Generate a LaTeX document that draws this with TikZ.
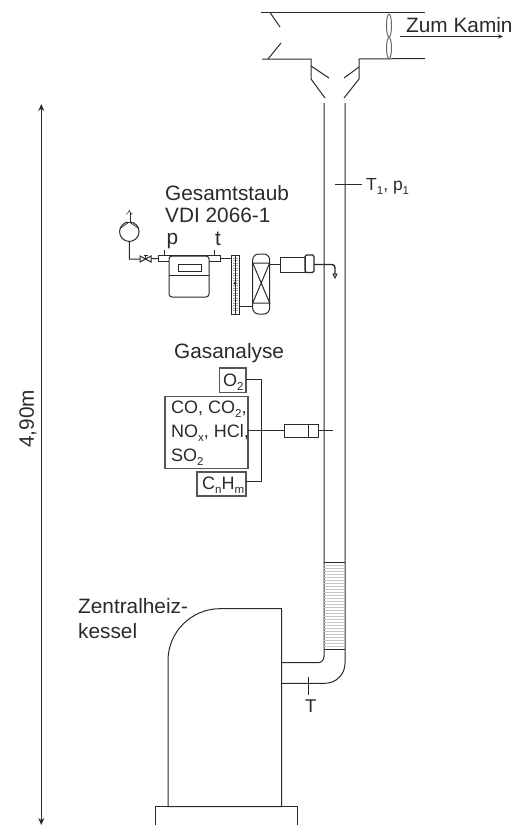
\documentclass[tikz,border=0pt]{standalone}
\usepackage{fontspec}
\setmainfont{Liberation Sans}
\usetikzlibrary{arrows.meta,shapes.geometric}
\newcommand{\lowidx}[1]{\raisebox{-.45ex}{\fontsize{11.5}{11.5}\selectfont #1}}
\definecolor{ink}{HTML}{2A2A2A}
\tikzset{
  line/.style={draw=ink,line width=1pt},
  lbl/.style={anchor=base west,inner sep=0pt,text=ink,font=\fontsize{#1}{#1}\selectfont},
  lbl/.default=20.8,
  part/.style={line,inner sep=0pt,outer sep=0pt},
  gasbox/.style={draw=ink!80,line width=1.2pt,inner sep=0pt,outer sep=0pt},
  bigtip/.style={{Stealth[length=7pt,width=6pt]}-{Stealth[length=7pt,width=6pt]}}
}
\begin{document}
\begin{tikzpicture}[x=1pt,y=-1pt]
\useasboundingbox (0,0) rectangle (519,825);
% Kamin
\coordinate (ductTL) at (261,12.5);
\coordinate (ductTR) at (425,12.5);
\coordinate (ductBL) at (262,59);
\coordinate (ductBR) at (425,58.5);
\draw[line] (ductTL) -- (ductTR);
\draw[line] (ductBL) -- (311,59) -- (311,79) -- (325,98);
\draw[line] (ductBR) -- (359,59) -- (359,79) -- (344,98);
\draw[line] (270,12.5) -- (280,27) (268,59) -- (281,43);
\draw[line] (311,66) -- (329,78) (359,67) -- (344,78);
\node[part,ellipse,minimum width=5pt,minimum height=23pt,draw=ink!70] (fanA) at (389,25.5) {};
\node[part,ellipse,minimum width=5pt,minimum height=21pt,draw=ink!70] (fanB) at (389,48) {};
\node[lbl] (kamin) at (406,32) {Zum Kamin};
\coordinate (flowA) at (400,36.5);
\coordinate (flowB) at (503,36.5);
\draw[-{Stealth[length=5pt,width=4pt]},line] (flowA) -- (flowB);
% Rohr
\coordinate (stackL) at (324,103);
\coordinate (stackR) at (345,103);
\coordinate (flueA) at (281.7,662.7);
\coordinate (flueB) at (281.7,683.3);
\draw[line,rounded corners=6pt] (stackL) -- (324,662.7) -- (flueA);
\draw[line,rounded corners=20pt] (stackR) -- (345,683.3) -- (flueB);
\foreach \y in {565,568,...,647}
  \draw[gray!45,line width=.5pt] (324,\y) -- (345,\y);
\draw[line] (324,562) -- (345,562) (324,649) -- (345,649);
\draw[line] (335,184) -- (362,184);
\node[lbl=17.5] (tempA) at (366,190) {T\lowidx{1}, p\lowidx{1}};
\draw[line] (308,676.7) -- (308,695);
\node[lbl=18.5] (tempB) at (305,712) {T};
% Kessel
\draw[line] (168,806.7) [rounded corners=52pt] -- (168,608.7) [sharp corners] -- (281.7,608.7) -- (281.7,806.7) -- cycle;
\draw[line,line width=1.4pt] (168,806.7) -- (281.7,806.7);
\draw[line] (155,825) -- (155,806.7) -- (297,806.7) -- (297,825);
\node[lbl] (kessA) at (78,613) {Zentralheiz-};
\node[lbl] (kessB) at (78,638) {kessel};
% Hoehe
\coordinate (highA) at (41.3,104);
\coordinate (highB) at (41.3,825);
\draw[bigtip,line] (highA) -- (highB);
\node[lbl,rotate=90] (high) at (34,448) {4,90m};
% Gesamtstaub
\node[lbl] (staubA) at (165,200) {Gesamtstaub};
\node[lbl] (staubB) at (165,222) {VDI 2066-1};
\node[lbl] (staubP) at (166.5,244) {p};
\node[lbl] (staubT) at (215,245) {t};
\node[part,circle,minimum size=19.5pt] (pump) at (129.3,231.7) {};
\draw[line,line width=.7pt] (pump.160) -- (pump.north) -- (pump.20);
\draw[draw=ink,double,double distance=1.8pt,line width=.5pt,-{Implies}] (pump.north) -- ++(0,-12);
\node[part,minimum width=62.7pt,minimum height=5.4pt,anchor=west] (tube) at (158,258.5) {};
\node[part,rounded corners=3pt,minimum width=40pt,minimum height=41pt,anchor=north west,fill=white] (meter) at (169,256) {};
\node[part,minimum width=23pt,minimum height=7pt,anchor=north west] (display) at (178,264) {};
\draw[line] (meter.west |- 0,275.7) -- (meter.east |- 0,275.7);
\coordinate (valve) at (145.5,259);
\draw[line] (pump.south) -- (129.3,259) -- (valve) -- (tube.west);
\draw[line,fill=white] (140,256) -- (151,262) -- (151,256) -- (140,262) -- cycle;
\draw[line] (valve) -- ++(0,-4) ++(-2,0) -- ++(4,0);
\draw[line] (164,250) -- (164,255.8) (214.5,250) -- (214.5,255.8);
\node[part,minimum width=8pt,minimum height=59pt,anchor=north west] (rota) at (231,255) {};
\foreach \y in {258,260.5,...,312}
  \draw[gray!70,line width=.5pt] (233,\y) -- (238,\y);
\draw[line] (235,255) -- (235,314);
\fill[ink] (235,283) circle (1.5pt);
\node[part,rounded corners=6pt,minimum width=17pt,minimum height=60pt,anchor=north west] (filter) at (252.7,254) {};
\draw[line] (252.7,263) -- (269.7,263) -- (252.7,303) -- (269.7,303) -- (252.7,263);
\node[part,minimum width=25pt,minimum height=15pt,anchor=north west] (probeA) at (280,257) {};
\node[part,rounded corners=1.5pt,minimum width=9pt,minimum height=17.5pt,anchor=north west,line width=1.3pt] (probeB) at (305,255) {};
\draw[line] (tube.east) -- (rota.west |- tube.east);
\draw[line] (rota.east |- 0,306.7) -- (filter.west |- 0,306.7);
\draw[line] (filter.east |- 0,264) -- (probeA.west |- 0,264);
\coordinate (tip) at (335,274);
\draw[line,line width=1.4pt,rounded corners=3pt] (probeB.east |- 0,264.5) -- (335,264.5) -- (tip);
\draw[line,fill=white] (tip) ++(-2,0) -- ++(4,0) -- ++(-2,4) -- cycle;
% Gasanalyse
\node[lbl] (gasT) at (174,358) {Gasanalyse};
\node[gasbox,minimum width=26.7pt,minimum height=24.7pt,anchor=north west] (gasO) at (219.3,368) {};
\node[lbl=18] at (223,386) {O\lowidx{2}};
\node[gasbox,minimum width=83pt,minimum height=72pt,anchor=north west] (gasM) at (165,396.7) {};
\node[lbl=18] at (171,413) {CO, CO\lowidx{2},};
\node[lbl=18] at (171,437) {NO\lowidx{x}, HCl,};
\node[lbl=18] at (171,461) {SO\lowidx{2}};
\node[gasbox,minimum width=49pt,minimum height=24pt,anchor=north west] (gasC) at (197,472) {};
\node[lbl=18] at (202,489) {C\lowidx{n}H\lowidx{m}};
\draw[line] (gasO.east |- 0,379.5) -- (261.5,379.5) -- (261.5,481) -- (gasC.east |- 0,481);
\node[part,minimum width=34pt,minimum height=13pt,anchor=north west] (gasP) at (284,424) {};
\draw[line] (308.7,424) -- (308.7,437);
\coordinate (gasEnd) at (333,430.5);
\draw[line] (gasM.east |- gasP.west) -- (gasP.west);
\draw[line] (gasP.east) -- (gasEnd);
\end{tikzpicture}
\end{document}
